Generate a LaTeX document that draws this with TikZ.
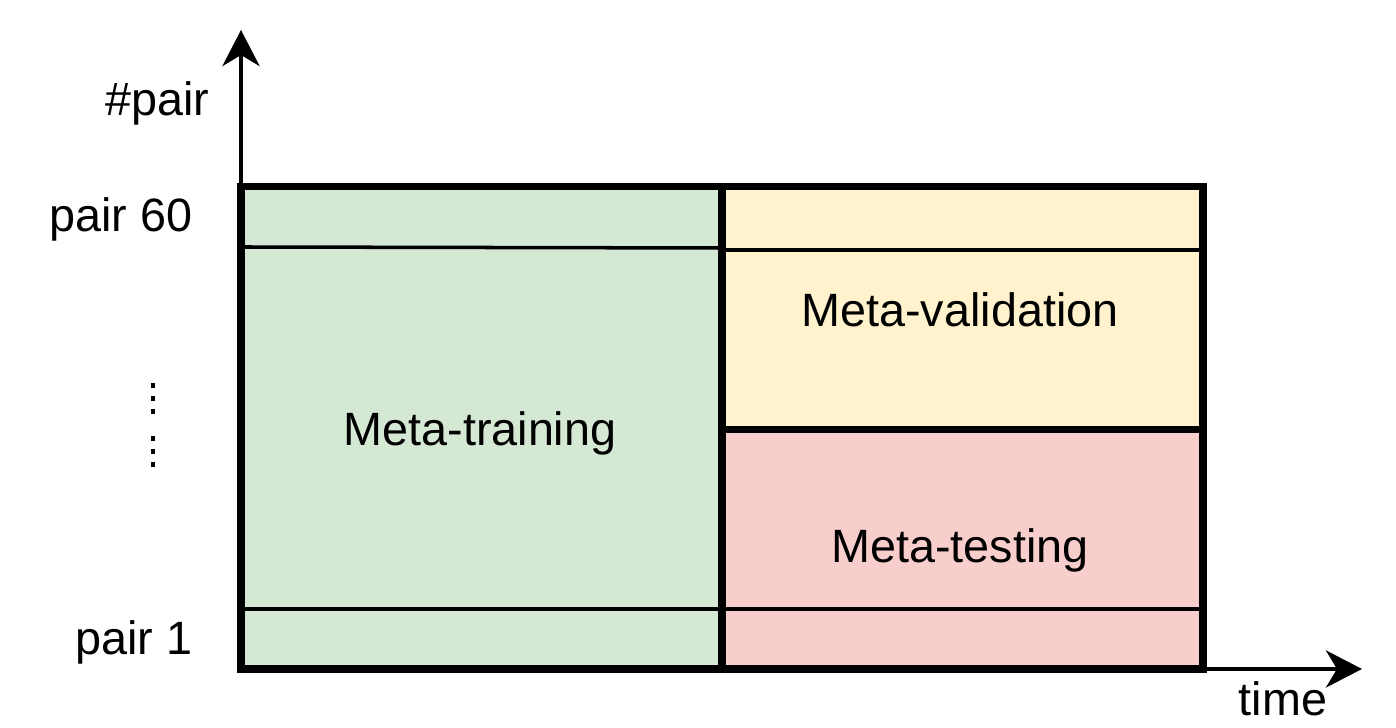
\documentclass[tikz,border=0pt]{standalone}
\usepackage{fontspec}
\setmainfont{Liberation Sans}
\usepackage{tikz}
\usetikzlibrary{arrows.meta}
\definecolor{trngreen}{HTML}{d5e8d4}
\definecolor{valyellow}{HTML}{fff2cc}
\definecolor{tstred}{HTML}{f8cecc}

\tikzset{
  boxline/.style={line width=2pt},
  rowline/.style={line width=1pt},
  axisline/.style={line width=1.3pt,-{Stealth[length=3.6mm,width=3.7mm,inset=1.1mm]}},
  lbl/.style={inner sep=0pt,font=\fontsize{13.3}{16}\selectfont}
}

\begin{document}
\begin{tikzpicture}[x=1cm,y=1cm]
  \useasboundingbox (0,0) rectangle (13.96,7.28);
  % regions
  \fill[trngreen] (2.41,0.59) rectangle (7.22,5.41);
  \fill[valyellow] (7.22,2.98) rectangle (12.03,5.41);
  \fill[tstred] (7.22,0.59) rectangle (12.03,2.98);
  % first and last pair rows
  \draw[rowline] (2.41,4.81) -- (7.22,4.80);
  \draw[rowline] (7.22,4.78) -- (12.03,4.78);
  \draw[rowline] (2.41,1.19) -- (12.03,1.19);
  % axes
  \coordinate (origin) at (2.41,0.59);
  \coordinate (ytop) at (2.41,6.98);
  \coordinate (xend) at (13.62,0.59);
  \draw[axisline] (origin) -- (ytop);
  \draw[axisline] (origin) -- (xend);
  % borders
  \draw[boxline] (2.41,0.59) rectangle (7.22,5.41);
  \draw[boxline] (7.22,2.98) rectangle (12.03,5.41);
  \draw[boxline] (7.22,0.59) rectangle (12.03,2.98);
  % labels
  \node[lbl] (train) at (4.80,2.95) {Meta-training};
  \node[lbl] (valid) at (9.60,4.18) {Meta-validation};
  \node[lbl] (test) at (9.60,1.78) {Meta-testing};
  \node[lbl,anchor=east] (npair) at (2.10,6.25) {\#pair};
  \node[lbl,anchor=east] (pairsixty) at (1.93,5.09) {pair 60};
  \node[lbl,anchor=east] (pairone) at (1.93,0.86) {pair 1};
  \node[lbl] (time) at (12.83,0.29) {time};
  % vertical dots
  \foreach \y in {3.42,3.29,3.16,2.89,2.76,2.63}
    \fill (1.505,\y-0.025) rectangle (1.555,\y+0.025);
\end{tikzpicture}
\end{document}
